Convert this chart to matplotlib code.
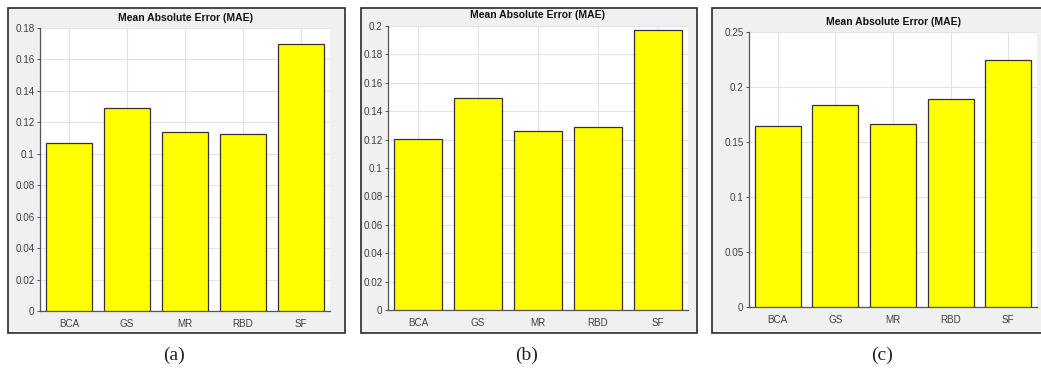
import matplotlib
matplotlib.use("Agg")
import matplotlib.pyplot as plt
from matplotlib.patches import Rectangle
from matplotlib.ticker import FuncFormatter
from matplotlib import font_manager

W, H = 1041, 371

methods = ["BCA", "GS", "MR", "RBD", "SF"]
mae_a = [0.107, 0.129, 0.1137, 0.1126, 0.1698]
mae_b = [0.1203, 0.1496, 0.1261, 0.129, 0.197]
mae_c = [0.165, 0.184, 0.166, 0.189, 0.2249]

yticks_a = [0, 0.02, 0.04, 0.06, 0.08, 0.1, 0.12, 0.14, 0.16, 0.18]
yticks_b = [0, 0.02, 0.04, 0.06, 0.08, 0.1, 0.12, 0.14, 0.16, 0.18, 0.2]
yticks_c = [0, 0.05, 0.1, 0.15, 0.2, 0.25]

captions = ["(a)", "(b)", "(c)"]

# pixel boxes: frame (x0, y0, x1, y1), axes (x0, y0, x1, y1), title y, caption x
panels = [
    dict(vals=mae_a, ticks=yticks_a, frame=(8, 8, 345, 333), ax=(40, 28, 330, 311), ty=18, cx=174),
    dict(vals=mae_b, ticks=yticks_b, frame=(361, 8, 697, 333), ax=(388, 26, 688, 310), ty=15, cx=527),
    dict(vals=mae_c, ticks=yticks_c, frame=(712, 8, 1045, 333), ax=(749, 32, 1037, 307), ty=22, cx=882),
]

# narrow font if there is one, else plain Liberation Sans a bit smaller
installed = {f.name for f in font_manager.fontManager.ttflist}
if "Liberation Sans Narrow" in installed:
    tick_font = ["Liberation Sans Narrow", "DejaVu Sans"]
    tick_size = 8.3
else:
    tick_font = ["Liberation Sans", "DejaVu Sans"]
    tick_size = 7.1


def fx(px):
    return px / W


def fy(py):
    return 1 - py / H


fig = plt.figure(figsize=(W / 100, H / 100), dpi=100)
fig.patch.set_facecolor("white")

for p, cap in zip(panels, captions):
    x0, y0, x1, y1 = p["frame"]
    fig.patches.append(Rectangle((fx(x0), fy(y1)), fx(x1 - x0), (y1 - y0) / H,
                                 transform=fig.transFigure, facecolor="#f0f0f0",
                                 edgecolor="#2b2b2b", linewidth=1.2, zorder=-5))

    a0, b0, a1, b1 = p["ax"]
    ax = fig.add_axes([fx(a0), fy(b1), fx(a1 - a0), (b1 - b0) / H])
    ax.set_facecolor("white")
    xs = range(1, len(methods) + 1)
    ax.bar(xs, p["vals"], width=0.8, color="#ffff00", edgecolor="#333333",
           linewidth=0.9, zorder=3)
    ax.set_xlim(0.5, 5.5)
    ax.set_ylim(p["ticks"][0], p["ticks"][-1])
    ax.set_xticks(list(xs))
    ax.set_xticklabels(methods)
    ax.set_yticks(p["ticks"])
    ax.yaxis.set_major_formatter(FuncFormatter(lambda v, pos: "%g" % v))
    ax.grid(True, color="#e3e3e3", linewidth=0.8, zorder=0)
    ax.set_axisbelow(True)
    for s in ["top", "right"]:
        ax.spines[s].set_visible(False)
    for s in ["left", "bottom"]:
        ax.spines[s].set_color("#555555")
        ax.spines[s].set_linewidth(0.9)
    ax.tick_params(direction="out", length=2, width=0.7, colors="#555555",
                   labelcolor="#404040", labelsize=tick_size, pad=2)
    ax.tick_params(axis="x", length=0, pad=6)
    for lab in ax.get_xticklabels() + ax.get_yticklabels():
        lab.set_family(tick_font)

    fig.text(fx((a0 + a1) / 2), fy(p["ty"]), "Mean Absolute Error (MAE)",
             ha="center", va="center", fontsize=7.5, fontweight="bold",
             color="#111111", family=tick_font)
    fig.text(fx(p["cx"]), fy(355), cap, ha="center", va="center",
             fontsize=14, family=["Liberation Serif", "DejaVu Serif"], color="#222222")

fig.savefig("out.png", dpi=100, facecolor=fig.get_facecolor())
